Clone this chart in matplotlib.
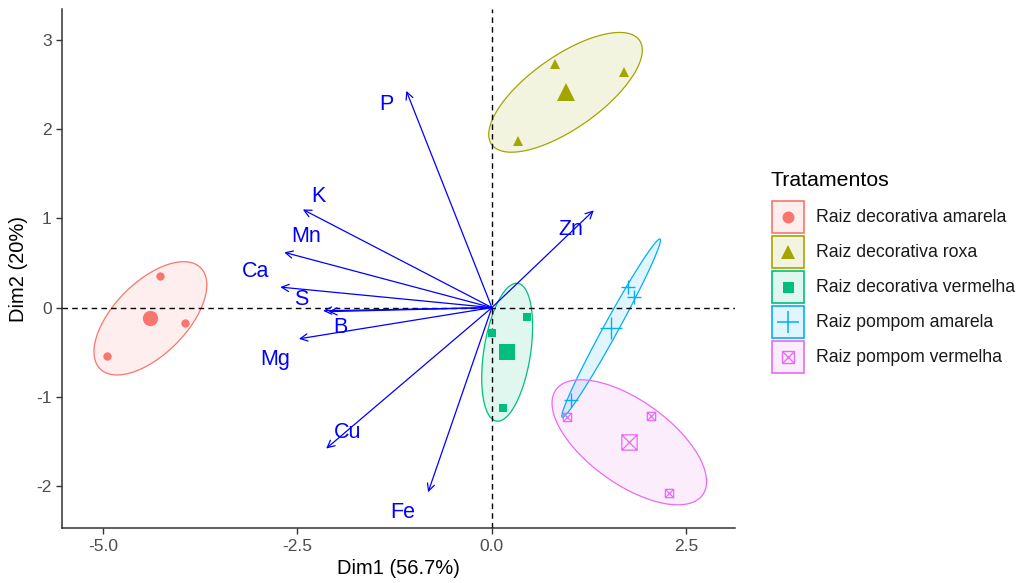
import numpy as np
import matplotlib.pyplot as plt
from matplotlib.path import Path
from matplotlib.patches import Polygon, Rectangle

plt.rcParams['font.family'] = ['Liberation Sans', 'DejaVu Sans']
plt.rcParams['axes.unicode_minus'] = False

tratamentos = ['Raiz decorativa amarela', 'Raiz decorativa roxa', 'Raiz decorativa vermelha',
               'Raiz pompom amarela', 'Raiz pompom vermelha']
cores = ['#F8766D', '#A3A500', '#00BF7D', '#00B0F6', '#E76BF3']

# individuos (Dim1, Dim2), tres por tratamento
dim1 = [[-4.27, -3.95, -4.95],
        [0.81, 1.70, 0.33],
        [0.45, 0.00, 0.14],
        [1.75, 1.83, 1.02],
        [0.97, 2.05, 2.28]]
dim2 = [[0.35, -0.17, -0.54],
        [2.73, 2.64, 1.87],
        [-0.10, -0.28, -1.12],
        [0.23, 0.12, -1.04],
        [-1.23, -1.22, -2.08]]

# variaveis (coordenadas das setas)
variaveis = ['P', 'K', 'Mn', 'Ca', 'S', 'B', 'Mg', 'Cu', 'Fe', 'Zn']
var_dim1 = [-1.10, -2.43, -2.67, -2.72, -2.17, -2.10, -2.48, -2.13, -0.82, 1.31]
var_dim2 = [2.43, 1.10, 0.62, 0.23, -0.035, -0.045, -0.35, -1.58, -2.07, 1.09]

# deslocamento dos rotulos em relacao a ponta da seta
rot_dx = [-0.26, 0.20, 0.28, -0.32, -0.28, 0.15, -0.30, 0.28, -0.32, -0.29]
rot_dy = [-0.15, 0.15, 0.18, 0.18, 0.13, -0.18, -0.23, 0.18, -0.23, -0.21]

# quadrado com X (shape 7 do R)
caixa_x = Path([(-1, -1), (1, -1), (1, 1), (-1, 1), (-1, -1),
                (-1, -1), (1, 1), (-1, 1), (1, -1)],
               [Path.MOVETO, Path.LINETO, Path.LINETO, Path.LINETO, Path.LINETO,
                Path.MOVETO, Path.LINETO, Path.MOVETO, Path.LINETO])

marcadores = [
    dict(marker='o', ms=6, ms_c=11, cheio=True, mew=0),
    dict(marker='^', ms=7, ms_c=13, cheio=True, mew=0),
    dict(marker='s', ms=6, ms_c=11, cheio=True, mew=0),
    dict(marker='+', ms=10, ms_c=16, cheio=False, mew=1.0),
    dict(marker=caixa_x, ms=6, ms_c=11, cheio=False, mew=0.9),
]


def elipse(x, y, escala=1.42, n=200):
    pts = np.column_stack([x, y])
    c = pts.mean(axis=0)
    vals, vecs = np.linalg.eigh(np.cov(pts.T))
    t = np.linspace(0, 2 * np.pi, n)
    circ = np.column_stack([np.cos(t), np.sin(t)]) * np.sqrt(vals)
    return c + escala * circ @ vecs.T


fig = plt.figure(figsize=(10.19, 5.83), dpi=100)
ax = fig.add_axes([0.0611, 0.0938, 0.660, 0.8907])

for i in range(len(tratamentos)):
    ell = elipse(dim1[i], dim2[i])
    ax.add_patch(Polygon(ell, closed=True, facecolor=cores[i], alpha=0.12, edgecolor='none', zorder=1))
    ax.add_patch(Polygon(ell, closed=True, facecolor='none', edgecolor=cores[i], lw=0.9, zorder=2))

ax.axhline(0, color='black', ls=(0, (4, 3)), lw=1, zorder=3)
ax.axvline(0, color='black', ls=(0, (4, 3)), lw=1, zorder=3)

for i in range(len(tratamentos)):
    m = marcadores[i]
    kw = dict(ls='none', marker=m['marker'], mew=m['mew'], zorder=4)
    if m['cheio']:
        kw.update(mfc=cores[i], mec=cores[i])
    else:
        kw.update(mfc='none', mec=cores[i])
    ax.plot(dim1[i], dim2[i], ms=m['ms'], **kw)
    ax.plot(np.mean(dim1[i]), np.mean(dim2[i]), ms=m['ms_c'], **kw)

for v, x, y, dx, dy in zip(variaveis, var_dim1, var_dim2, rot_dx, rot_dy):
    ax.annotate('', xy=(x, y), xytext=(0, 0),
                arrowprops=dict(arrowstyle='->', color='#0000FF', lw=0.9,
                                mutation_scale=13, shrinkA=0, shrinkB=0), zorder=5)
    ax.text(x + dx, y + dy, v, color='#0000FF', fontsize=15.5, ha='center', va='center', zorder=6)

ax.set_xlim(-5.523, 3.123)
ax.set_ylim(-2.474, 3.347)
ax.set_xticks([-5.0, -2.5, 0.0, 2.5])
ax.set_xticklabels(['-5.0', '-2.5', '0.0', '2.5'])
ax.set_yticks([-2, -1, 0, 1, 2, 3])
for s in ['top', 'right']:
    ax.spines[s].set_visible(False)
for s in ['left', 'bottom']:
    ax.spines[s].set_color('#333333')
    ax.spines[s].set_linewidth(1.1)
ax.tick_params(colors='#333333', labelcolor='#4D4D4D', labelsize=12.5, length=4, width=1)
ax.set_xlabel('Dim1 (56.7%)', fontsize=14.5, color='black', labelpad=4)
ax.set_ylabel('Dim2 (20%)', fontsize=14.5, color='black', labelpad=6)

# legenda desenhada em coordenadas de pixel
leg = fig.add_axes([0, 0, 1, 1], zorder=10)
leg.set_xlim(0, 1019)
leg.set_ylim(583, 0)
leg.axis('off')
leg.patch.set_alpha(0)
leg.text(771, 180, 'Tratamentos', fontsize=15.3, ha='left', va='center')
tam_leg = [12, 14, 11, 22, 12]
for i, nome in enumerate(tratamentos):
    y0 = 200.5 + 35 * i
    leg.add_patch(Rectangle((772, y0), 32, 32, facecolor=cores[i], alpha=0.12, edgecolor='none'))
    leg.add_patch(Rectangle((772, y0), 32, 32, facecolor='none', edgecolor=cores[i], lw=1.2))
    m = marcadores[i]
    kw = dict(ls='none', marker=m['marker'], mew=m['mew'] * 1.1, ms=tam_leg[i] * 0.72)
    if m['cheio']:
        kw.update(mfc=cores[i], mec=cores[i])
    else:
        kw.update(mfc='none', mec=cores[i])
    leg.plot(788, y0 + 16, **kw)
    leg.text(816, y0 + 17, nome, fontsize=12.7, ha='left', va='center', color='#1A1A1A')

fig.savefig('out.png', dpi=100)
